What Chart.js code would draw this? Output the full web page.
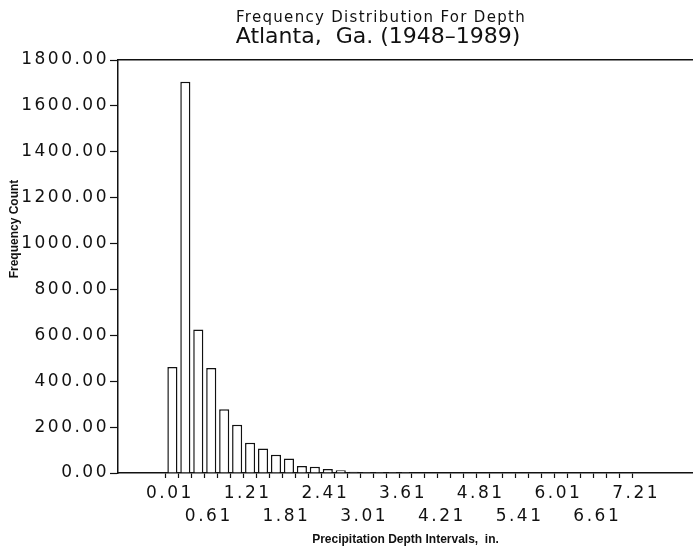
<!DOCTYPE html>
<html>
<head>
<meta charset="utf-8">
<title>Frequency Distribution For Depth</title>
<script src="https://cdn.jsdelivr.net/npm/chart.js@4.4.1/dist/chart.umd.min.js"></script>
<style>
  html, body { margin: 0; padding: 0; background: #fff; }
  canvas { display: block; }
</style>
</head>
<body>
<canvas id="chart" width="693" height="555"></canvas>
<script>
// lower edge of each depth interval (in.), each interval is 0.2 in. wide
const binLower = [0.01, 0.21, 0.41, 0.61, 0.81, 1.01, 1.21, 1.41, 1.61, 1.81,
  2.01, 2.21, 2.41, 2.61, 2.81, 3.01, 3.21, 3.41, 3.61, 3.81, 4.01];
const counts = [462, 1705, 625, 458, 278, 210, 132, 107, 79, 63,
  30, 27, 17, 12, 5, 4, 4, 4, 4, 3, 3];
const binWidth = 0.2;

// labelled ticks, every third tick mark, staggered on two rows
const xTickLabels = ['0.01', '0.61', '1.21', '1.81', '2.41', '3.01', '3.61',
  '4.21', '4.81', '5.41', '6.01', '6.61', '7.21'];
const xTickFirst = 0.01, xTickLast = 7.21, xTickStep = 0.2;
const yMin = 0, yMax = 1800, yStep = 200;

const ink = '#111';
const tickFont = { family: 'DejaVu Sans', size: 17, lineHeight: 1.3 };

// tick labels get wider letter spacing, like the plotter font
const spacing = {
  id: 'spacing',
  beforeDraw(chart) { chart.ctx.letterSpacing = '0px'; },
  afterDatasetsDraw(chart) { chart.ctx.letterSpacing = '2.5px'; }
};

const headings = {
  id: 'headings',
  afterDraw(chart) {
    const ctx = chart.ctx;
    ctx.save();
    ctx.fillStyle = ink;
    ctx.textAlign = 'center';
    ctx.textBaseline = 'alphabetic';
    ctx.letterSpacing = '1.3px';
    ctx.font = '15px "DejaVu Sans"';
    ctx.fillText('Frequency Distribution For Depth', 381, 22);
    ctx.letterSpacing = '0px';
    ctx.font = '22px "DejaVu Sans"';
    ctx.fillText('Atlanta,  Ga. (1948\u20131989)', 378, 43);
    ctx.translate(18, 229);
    ctx.rotate(-Math.PI / 2);
    ctx.font = 'bold 12px "Liberation Sans"';
    ctx.fillText('Frequency Count', 0, 0);
    ctx.restore();
  }
};

new Chart(document.getElementById('chart'), {
  type: 'bar',
  data: {
    datasets: [{
      data: binLower.map((lo, i) => ({ x: lo + binWidth / 2, y: counts[i] })),
      backgroundColor: '#fff',
      borderColor: ink,
      borderWidth: 1.5,
      barPercentage: 0.78,
      categoryPercentage: 1
    }]
  },
  options: {
    responsive: false,
    animation: false,
    layout: { padding: { top: 60, right: 0, bottom: 0, left: 0 } },
    plugins: {
      legend: { display: false },
      tooltip: { enabled: false }
    },
    scales: {
      x: {
        type: 'linear',
        min: -0.73,
        max: 8.15,
        offset: false,
        afterBuildTicks(scale) {
          const ticks = [];
          for (let v = xTickFirst; v <= xTickLast + 1e-6; v += xTickStep) {
            ticks.push({ value: Math.round(v * 100) / 100 });
          }
          scale.ticks = ticks;
        },
        afterFit(scale) { scale.height = 82; },
        grid: {
          offset: false,
          drawOnChartArea: false,
          tickLength: 5,
          tickColor: ink,
          tickWidth: 1.2
        },
        border: { color: ink, width: 1.5 },
        ticks: {
          z: 1,
          autoSkip: false,
          maxRotation: 0,
          minRotation: 0,
          padding: 5,
          labelOffset: 4,
          color: ink,
          font: tickFont,
          callback(value) {
            const i = xTickLabels.indexOf(value.toFixed(2));
            if (i < 0) return '';
            return i % 2 === 0 ? xTickLabels[i] : ['', xTickLabels[i]];
          }
        },
        title: {
          display: true,
          text: 'Precipitation Depth Intervals,  in.',
          color: ink,
          font: { family: 'Liberation Sans', size: 12, weight: 'bold' },
          padding: { top: 0, bottom: 8 }
        }
      },
      x2: {
        type: 'linear',
        position: 'top',
        min: 0,
        max: 1,
        afterFit(scale) { scale.height = 0; },
        grid: { display: true, drawOnChartArea: false, drawTicks: false },
        border: { color: ink, width: 1.5 },
        ticks: { display: false }
      },
      y: {
        min: yMin,
        max: yMax,
        afterFit(scale) { scale.width = 118; },
        grid: {
          drawOnChartArea: false,
          tickLength: 8,
          tickColor: ink,
          tickWidth: 1.2
        },
        border: { color: ink, width: 1.5 },
        ticks: {
          z: 1,
          stepSize: yStep,
          padding: 1,
          color: ink,
          font: tickFont,
          callback: (v) => v.toFixed(2)
        }
      }
    }
  },
  plugins: [spacing, headings]
});
</script>
</body>
</html>
